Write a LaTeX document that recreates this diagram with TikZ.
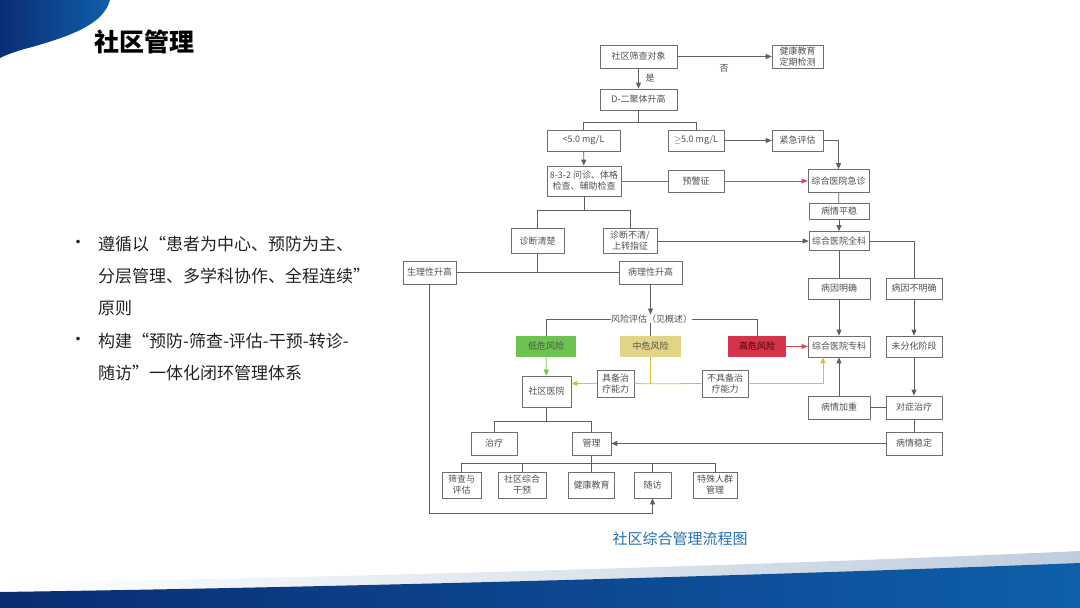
\documentclass[tikz,border=0pt]{standalone}
\usepackage{fontspec}
\setmainfont{Noto Sans CJK SC}
\usetikzlibrary{arrows.meta}
\definecolor{navy}{RGB}{10,45,115}
\definecolor{brightblue}{RGB}{15,95,170}
\definecolor{stripegray}{RGB}{190,205,222}
\definecolor{boxgray}{RGB}{110,110,110}
\definecolor{linegray}{RGB}{95,95,95}
\definecolor{txtgray}{RGB}{80,80,80}
\definecolor{bodytxt}{RGB}{35,35,35}
\definecolor{capblue}{RGB}{35,110,180}
\definecolor{lowgreen}{RGB}{110,195,80}
\definecolor{midyellow}{RGB}{226,212,135}
\definecolor{highred}{RGB}{214,52,75}
\definecolor{redline}{RGB}{222,70,95}
\definecolor{grnline}{RGB}{105,200,75}
\definecolor{yelline}{RGB}{218,190,60}
\begin{document}
\begin{tikzpicture}[x=1pt,y=-1pt,
    box/.style={draw=boxgray,line width=0.7pt,fill=white,text=txtgray,
        font=\fontsize{9}{11}\selectfont,align=center,inner sep=1pt,minimum height=21pt},
    link/.style={draw=linegray,line width=0.8pt},
    arr/.style={-{Triangle[length=6pt,width=5pt]}},
    redlink/.style={draw=redline,line width=0.8pt},
    grnlink/.style={draw=grnline,line width=0.8pt},
    yellink/.style={draw=yelline,line width=0.8pt},
    bodytext/.style={text=bodytxt,font=\fontsize{17}{32}\selectfont,align=left,inner sep=0pt}]
\tikzstyle{lbl}=[text=txtgray,font=\fontsize{9}{11}\selectfont,inner sep=0pt]
\useasboundingbox (0,0) rectangle (1080,608);

% background
\shade[left color=navy,right color=brightblue] (0,0) -- (110,0) .. controls (104,22) and (78,34) .. (32,47) .. controls (16,51) and (6,55) .. (0,58) -- cycle;
\shade[left color=white,right color=stripegray] (0,583) .. controls (350,577) and (750,566) .. (1080,551) -- (1080,608) -- (0,608) -- cycle;
\shade[left color=navy,right color=brightblue] (0,592) .. controls (350,587) and (750,576) .. (1080,563) -- (1080,608) -- (0,608) -- cycle;

% title and bullets
\node[anchor=west,inner sep=0pt,font=\fontsize{25}{30}\selectfont\bfseries] (title) at (94,42) {社区管理};
\node[bodytext] (dot1) at (78,244) {•};
\node[bodytext,anchor=west] (pt1) at (98,276) {遵循以“患者为中心、预防为主、\\分层管理、多学科协作、全程连续”\\原则};
\node[bodytext] (dot2) at (78,341) {•};
\node[bodytext,anchor=west] (pt2) at (98,357) {构建“预防-筛查-评估-干预-转诊-\\随访”一体化闭环管理体系};
\node[text=capblue,font=\fontsize{15}{18}\selectfont,inner sep=0pt] (caption) at (680,539) {社区综合管理流程图};

% flowchart nodes
\node[box,minimum width=77pt,minimum height=23pt] (screen) at (638.5,56.5) {社区筛查对象};
\node[box,minimum width=51pt,minimum height=23pt] (edu) at (797.5,56.5) {健康教育\\定期检测};
\node[box,minimum width=77pt] (dimer) at (638.5,99.5) {D-二聚体升高};
\node[box,minimum width=73pt] (lt5) at (583.5,140.5) {<5.0 mg/L};
\node[box,minimum width=56pt] (ge5) at (696,140.5) {$\geq$5.0 mg/L};
\node[box,minimum width=51pt] (urgent) at (797.5,140.5) {紧急评估};
\node[box,minimum width=74pt,minimum height=30pt] (exam) at (584,181) {8-3-2 问诊、体格\\检查、辅助检查};
\node[box,minimum width=56pt,minimum height=22pt] (warn) at (696,181) {预警征};
\node[box,minimum width=61pt,minimum height=23pt] (er) at (838.5,181) {综合医院急诊};
\node[box,minimum width=60pt,minimum height=16pt] (stable1) at (839,211) {病情平稳};
\node[box,minimum width=60pt,minimum height=19pt] (gen) at (839,241) {综合医院全科};
\node[box,minimum width=53pt,minimum height=25pt] (clear) at (537.5,241) {诊断清楚};
\node[box,minimum width=54pt,minimum height=25pt] (unclear) at (630,241) {诊断不清/\\上转指征};
\node[box,minimum width=53pt,minimum height=23pt] (phys) at (429.5,272.5) {生理性升高};
\node[box,minimum width=63pt,minimum height=23pt] (path) at (650.5,272.5) {病理性升高};
\node[lbl] (risk) at (651.5,319) {风险评估（见概述）};
\node[box,minimum width=60pt,fill=lowgreen,draw=none] (low) at (546,346.5) {低危风险};
\node[box,minimum width=61pt,fill=midyellow,draw=none] (mid) at (650.5,346.5) {中危风险};
\node[box,minimum width=58pt,fill=highred,draw=none,text=black!70!red] (high) at (757,346.5) {高危风险};
\node[box,minimum width=62pt] (cause) at (839,288.5) {病因明确};
\node[box,minimum width=56pt] (nocause) at (914,288.5) {病因不明确};
\node[box,minimum width=62pt] (spec) at (839,346.5) {综合医院专科};
\node[box,minimum width=56pt] (undiff) at (914,346.5) {未分化阶段};
\node[box,minimum width=49pt,minimum height=31pt] (comm) at (546.5,391.5) {社区医院};
\node[box,minimum width=37pt,minimum height=27pt] (able) at (615.5,383.5) {具备治\\疗能力};
\node[box,minimum width=46pt,minimum height=27pt] (unable) at (725,383.5) {不具备治\\疗能力};
\node[box,minimum width=62pt,minimum height=23pt] (worse) at (839,407.5) {病情加重};
\node[box,minimum width=56pt,minimum height=23pt] (symp) at (914,407.5) {对症治疗};
\node[box,minimum width=56pt,minimum height=23pt] (stable2) at (914,443.5) {病情稳定};
\node[box,minimum width=46pt,minimum height=23pt] (treat) at (494,443.5) {治疗};
\node[box,minimum width=39pt,minimum height=23pt] (manage) at (591.5,443.5) {管理};
\node[box,minimum width=39pt,minimum height=26pt] (scr) at (461.5,485) {筛查与\\评估};
\node[box,minimum width=48pt,minimum height=26pt] (interv) at (522,485) {社区综合\\干预};
\node[box,minimum width=46pt,minimum height=26pt] (hedu) at (591.5,485) {健康教育};
\node[box,minimum width=37pt,minimum height=26pt] (follow) at (652.5,485) {随访};
\node[box,minimum width=44pt,minimum height=26pt] (special) at (715,485) {特殊人群\\管理};
\node[lbl] (lblno) at (724,68) {否};
\node[lbl] (lblyes) at (650,78) {是};

% connectors
\draw[link,arr] (screen) -- (edu);
\draw[link,arr] (screen) -- (dimer);
\draw[link] (dimer.south) -- ++(0,12.5) coordinate (dsplit);
\draw[link] (lt5.north) |- (dsplit) -| (ge5.north);
\draw[link,arr] (ge5) -- (urgent);
\draw[link,arr] (urgent.east) -| (er.north);
\draw[link,arr] (lt5) -- (exam);
\draw[redlink] (exam) -- (warn);
\draw[redlink,arr] (warn) -- (er);
\draw[link] (er) -- (stable1);
\draw[link,arr] (stable1) -- (gen);
\draw[link] (exam.south) -- ++(0,14) coordinate (esplit);
\draw[link] (clear.north) |- (esplit) -| (unclear.north);
\draw[link,arr] (unclear) -- (gen);
\draw[link] (phys) -- (path);
\draw[link] (clear.south) -- (clear.south |- phys.east);
\draw[link,arr] (path.south) -- (path.south |- risk.north);
\draw[link] (risk.west) -| (low.north);
\draw[link] (risk.east) -| (high.north);
\draw[link] (mid.north |- risk.south) -- (mid.north);
\draw[grnlink,arr] (low) -- (comm);
\draw[yellink] (mid.south) -- ++(0,26.5) coordinate (mjoin);
\draw[yellink] (mjoin) -- (able.east);
\draw[yellink,arr] (able.west) -- (comm.east |- able.west);
\draw[yellink] (mjoin) -- (unable.west);
\draw[yellink,arr] (unable.east) -| ([xshift=-16pt]spec.south);
\draw[redlink,arr] (high) -- (spec);
\draw[link] (gen) -- (cause);
\draw[link,arr] (cause) -- (spec);
\draw[link] (gen.east) -| (nocause.north);
\draw[link,arr] (nocause) -- (undiff);
\draw[link,arr] (undiff) -- (symp);
\draw[link] (symp) -- (worse);
\draw[link,arr] (worse) -- (spec);
\draw[link] (symp) -- (stable2);
\draw[link,arr] (stable2) -- (manage);
\draw[link] (comm.south) -- ++(0,14.5) coordinate (csplit);
\draw[link] (treat.north) |- (csplit) -| (manage.north);
\draw[link] (manage) -- (hedu);
\draw[link] (scr.north) |- ([yshift=-8pt]manage.south) -| (special.north);
\draw[link] (interv.north) -- ++(0,-9);
\draw[link] (follow.north) -- ++(0,-9);
\draw[link,arr] (phys.south) -- ++(0,229) -| (follow.south);
\end{tikzpicture}
\end{document}
